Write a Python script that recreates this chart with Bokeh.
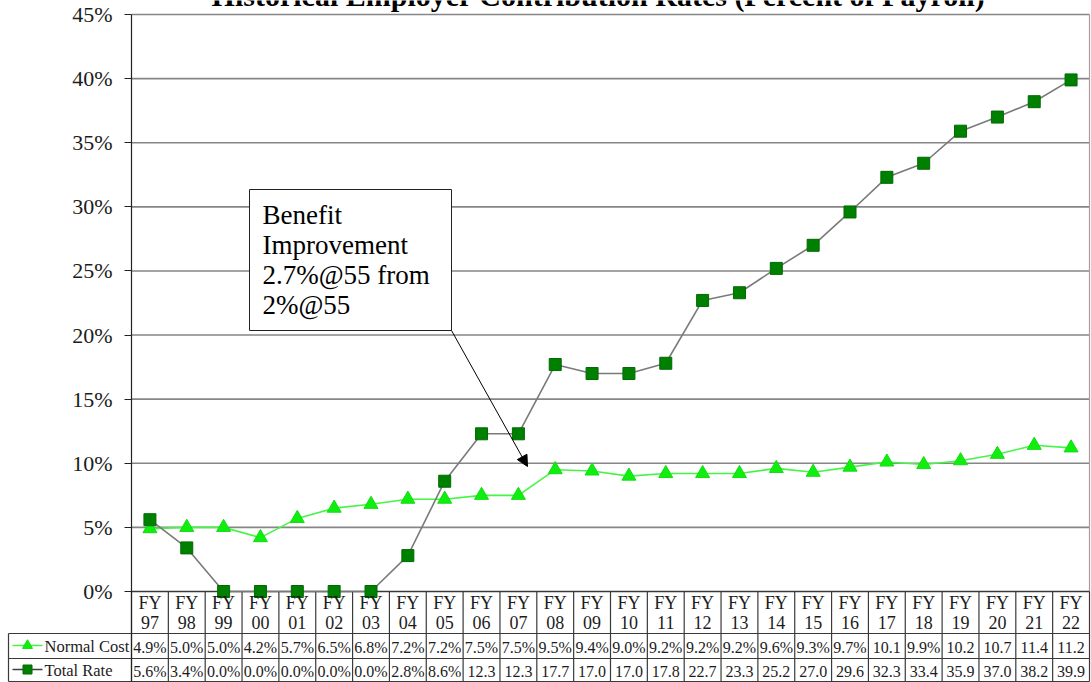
import numpy as np
from bokeh.plotting import figure
from bokeh.models import (Range1d, LinearAxis, FixedTicker, PrintfTickFormatter,
                          ColumnDataSource, Arrow, NormalHead)
from bokeh.core.properties import value
from bokeh.embed import file_html
from bokeh.resources import INLINE

# ---- data -----------------------------------------------------------------
TITLE = "Historical Employer Contribution Rates (Percent of Payroll)"
fiscal_years = ["97", "98", "99", "00", "01", "02", "03", "04", "05", "06",
                "07", "08", "09", "10", "11", "12", "13", "14", "15", "16",
                "17", "18", "19", "20", "21", "22"]
normal_cost = [4.9, 5.0, 5.0, 4.2, 5.7, 6.5, 6.8, 7.2, 7.2, 7.5, 7.5, 9.5, 9.4,
               9.0, 9.2, 9.2, 9.2, 9.6, 9.3, 9.7, 10.1, 9.9, 10.2, 10.7, 11.4, 11.2]
total_rate = [5.6, 3.4, 0.0, 0.0, 0.0, 0.0, 0.0, 2.8, 8.6, 12.3, 12.3, 17.7, 17.0,
              17.0, 17.8, 22.7, 23.3, 25.2, 27.0, 29.6, 32.3, 33.4, 35.9, 37.0, 38.2, 39.9]
series_names = ["Normal Cost", "Total Rate"]
y_ticks = [0, 5, 10, 15, 20, 25, 30, 35, 40, 45]
note_lines = ["Benefit", "Improvement", "2.7%@55 from", "2%@55"]

# ---- layout (pixels) ------------------------------------------------------
W, H = 1091, 682
AXIS_X, PLOT_R = 131, 1089
ZERO_Y, TOP_Y = 591, 14
N = len(fiscal_years)
CAT_W = (PLOT_R - AXIS_X) / N
PX_PER_PCT = (ZERO_Y - TOP_Y) / y_ticks[-1]
HEADER_B, ROW1_B, TABLE_B = 633, 658, 681
TABLE_L = 8
SERIF = "'Liberation Serif', 'Times New Roman', Times, serif"
INK = "#1c1c1c"
GRID = "#868686"
RULE = "#3a3a3a"


def px_to_pct(py):
    return (ZERO_Y - py) / PX_PER_PCT


def base(py, size):
    # text glyphs sit a little low with an alphabetic baseline; lift them
    return py - 0.28 * size


def cell_text(v):
    # one decimal; values of 10 or more are shown without the percent sign
    return f"{v:.1f}%" if v < 10 else f"{v:.1f}"


# the plotting frame fills the whole canvas; the axis is pinned at x = 0
p = figure(width=W, height=H,
           x_range=Range1d(-AXIS_X / CAT_W, (W - AXIS_X) / CAT_W),
           y_range=Range1d(px_to_pct(H), px_to_pct(0)),
           x_axis_location=None, y_axis_location=None,
           output_backend="svg", toolbar_location=None,
           min_border_left=0, min_border_right=0,
           min_border_top=0, min_border_bottom=0,
           outline_line_color=None, background_fill_color="white",
           border_fill_color="white")
p.grid.grid_line_color = None
# pixel-space ranges for the table furniture and the call-out
p.extra_x_ranges = {"sx": Range1d(0, W)}
p.extra_y_ranges = {"sy": Range1d(H, 0)}

src = ColumnDataSource(dict(
    x=np.arange(N) + 0.5,
    nc=normal_cost,
    tr=total_rate,
    fy=["FY"] * N,
    yr=fiscal_years,
    nc_lbl=[cell_text(v) for v in normal_cost],
    tr_lbl=[cell_text(v) for v in total_rate],
))

# title, partly running off the top edge
p.text(x=[598], y=[base(3, 30)], text=[TITLE], text_font=value(SERIF),
       text_font_size="30px", text_font_style="bold", text_align="center",
       text_baseline="alphabetic", text_color="black",
       x_range_name="sx", y_range_name="sy")

# horizontal gridlines and right edge of the plot area
grid_vals = [t for t in y_ticks if t > 0]
p.segment(x0=[0] * len(grid_vals), x1=[N] * len(grid_vals), y0=grid_vals, y1=grid_vals,
          line_color=GRID, line_width=1.6)
p.segment(x0=[N], x1=[N], y0=[0], y1=[y_ticks[-1]], line_color="#a0a0a0", line_width=1.2)

# data table grid
bottom = px_to_pct(TABLE_B)
p.segment(x0=list(range(N + 1)), x1=list(range(N + 1)), y0=[0] * (N + 1),
          y1=[bottom] * (N + 1), line_color=RULE, line_width=1.2)
p.segment(x0=[0], x1=[N], y0=[0], y1=[0], line_color=RULE, line_width=1.4)
p.segment(x0=[TABLE_L] * 3, x1=[PLOT_R] * 3, y0=[HEADER_B, ROW1_B, TABLE_B],
          y1=[HEADER_B, ROW1_B, TABLE_B], line_color=RULE, line_width=1.2,
          x_range_name="sx", y_range_name="sy")
p.segment(x0=[TABLE_L], x1=[TABLE_L], y0=[HEADER_B], y1=[TABLE_B],
          line_color=RULE, line_width=1.2, x_range_name="sx", y_range_name="sy")

# series
p.line("x", "nc", source=src, line_color="#45f545", line_width=1.6)
p.scatter("x", "nc", source=src, marker="triangle", size=14,
          fill_color="#10ee10", line_color="#10dd10")
p.line("x", "tr", source=src, line_color="#7a7a7a", line_width=1.6)
p.scatter("x", "tr", source=src, marker="square", size=12,
          fill_color="#008000", line_color="#006a00")

# table header and values
txt = dict(text_font=value(SERIF), text_align="center", text_baseline="alphabetic",
           text_color=INK, y_range_name="sy")
p.text(x="x", y=base(608, 18), text="fy", source=src, text_font_size="18px", **txt)
p.text(x="x", y=base(627, 18), text="yr", source=src, text_font_size="18px", **txt)
p.text(x="x", y=base(651, 16), text="nc_lbl", source=src, text_font_size="16px", **txt)
p.text(x="x", y=base(675, 16), text="tr_lbl", source=src, text_font_size="16px", **txt)

# legend keys in the table's first column
key_y = [645, 669]
p.segment(x0=[12], x1=[42], y0=[key_y[0]], y1=[key_y[0]], line_color="#45f545",
          line_width=1.6, x_range_name="sx", y_range_name="sy")
p.scatter(x=[27], y=[key_y[0]], marker="triangle", size=10, fill_color="#10ee10",
          line_color="#10dd10", x_range_name="sx", y_range_name="sy")
p.segment(x0=[12], x1=[42], y0=[key_y[1]], y1=[key_y[1]], line_color="#404040",
          line_width=1.6, x_range_name="sx", y_range_name="sy")
p.scatter(x=[27], y=[key_y[1]], marker="square", size=9, fill_color="#008000",
          line_color="#006a00", x_range_name="sx", y_range_name="sy")
p.text(x=[44, 44], y=[base(651, 16.5), base(675, 16.5)], text=series_names,
       text_font=value(SERIF), text_font_size="16.5px", text_align="left",
       text_baseline="alphabetic", text_color=INK,
       x_range_name="sx", y_range_name="sy")

# call-out box with arrow
p.quad(left=[249], right=[451], top=[189], bottom=[330], fill_color="white",
       line_color="#222222", line_width=1, x_range_name="sx", y_range_name="sy")
p.text(x=[262] * 4, y=[base(v, 27) for v in (222, 252, 282, 312)], text=note_lines,
       text_font=value(SERIF), text_font_size="27px", text_align="left",
       text_baseline="alphabetic", text_color="black",
       x_range_name="sx", y_range_name="sy")
p.add_layout(Arrow(x_start=451, y_start=330, x_end=527, y_end=466,
                   x_range_name="sx", y_range_name="sy",
                   line_color="black", line_width=1,
                   end=NormalHead(size=11, fill_color="black", line_color="black")))

# y axis pinned to the start of the first category
yaxis = LinearAxis(fixed_location=0,
                   ticker=FixedTicker(ticks=y_ticks),
                   formatter=PrintfTickFormatter(format="%d%%"),
                   bounds=(bottom, y_ticks[-1]),
                   axis_line_color="#222222", axis_line_width=1.2,
                   major_tick_out=7, major_tick_in=0,
                   major_tick_line_color="#222222",
                   minor_tick_out=0, minor_tick_in=0,
                   major_label_standoff=12,
                   major_label_text_font=SERIF,
                   major_label_text_font_size="22px",
                   major_label_text_color=INK)
p.add_layout(yaxis, "left")

open("out.html", "w").write(file_html(p, INLINE))
